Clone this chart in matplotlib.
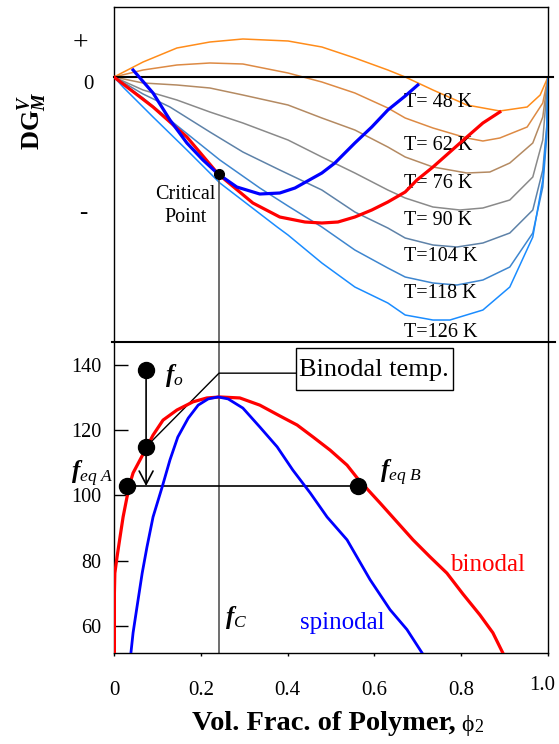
import matplotlib
matplotlib.use('Agg')
import matplotlib.pyplot as plt
from matplotlib.patches import Rectangle
from matplotlib.transforms import ScaledTranslation

plt.rcParams['font.family'] = ['Liberation Serif', 'DejaVu Serif']
plt.rcParams['mathtext.fontset'] = 'custom'
plt.rcParams['mathtext.rm'] = 'Liberation Serif'
plt.rcParams['mathtext.it'] = 'Liberation Serif:italic'
plt.rcParams['mathtext.bf'] = 'Liberation Serif:bold'
plt.rcParams['mathtext.bfit'] = 'Liberation Serif:bold:italic'

# ---- top panel: free energy of mixing curves (arbitrary units) ----
temps = ['T= 48 K', 'T= 62 K', 'T= 76 K', 'T= 90 K', 'T=104 K', 'T=118 K', 'T=126 K']
colors = ['#ff8c1a', '#dd8a44', '#b48a62', '#8a8a8a', '#5e82a8', '#3e86cf', '#1a8cff']

phi_t48 = [0, .067, .145, .221, .297, .401, .479, .555, .631, .671, .735, .813, .889, .952, .982, 1.0]
g_t48 = [0, 1.5, 2.9, 3.5, 3.8, 3.6, 3.0, 1.9, 0.7, 0.0, -1.3, -2.8, -3.4, -3.0, -1.8, 0.0]

phi_t62 = [0, .067, .145, .221, .297, .401, .479, .555, .631, .671, .735, .813, .850, .889, .952, .988, 1.0]
g_t62 = [0, .7, 1.2, 1.4, 1.3, .4, -.5, -1.6, -3.1, -4.1, -5.1, -6.1, -6.4, -6.1, -5.0, -2.6, 0]

phi_t76 = [0, .067, .145, .221, .297, .401, .479, .555, .631, .671, .735, .813, .866, .912, .965, .988, 1.0]
g_t76 = [0, -.6, -.8, -1.1, -1.8, -2.8, -4.1, -5.3, -7.0, -8.0, -9.0, -9.6, -9.5, -8.6, -6.6, -4.0, 0]

phi_t90 = [0, .067, .145, .221, .297, .401, .479, .555, .631, .671, .735, .797, .850, .912, .965, .988, 1.0]
g_t90 = [0, -1.3, -2.3, -3.5, -4.6, -6.3, -8.0, -9.6, -11.3, -12.1, -13.0, -13.3, -13.1, -12.3, -10.0, -6.3, 0]

phi_t104 = [0, .067, .129, .221, .297, .382, .479, .555, .631, .671, .735, .790, .850, .912, .965, .988, .997, 1.0]
g_t104 = [0, -1.7, -3.0, -5.5, -7.5, -9.3, -11.3, -13.5, -15.1, -16.1, -16.8, -17.0, -16.6, -15.6, -13.3, -9.3, -5.0, 0]

phi_t118 = [0, .067, .129, .244, .336, .401, .479, .555, .631, .671, .735, .790, .850, .912, .965, .988, .997, 1.0]
g_t118 = [0, -2.1, -4.3, -8.3, -11.1, -12.9, -15.0, -17.3, -19.1, -20.0, -20.6, -20.8, -20.3, -19.0, -15.6, -11.0, -6.0, 0]

phi_t126 = [0, .023, .090, .168, .244, .376, .401, .479, .555, .631, .671, .735, .774, .850, .912, .965, .988, .997, 1.0]
g_t126 = [0, -1.1, -4.0, -7.3, -10.6, -15.0, -15.8, -18.6, -21.0, -22.6, -23.8, -24.3, -24.3, -23.3, -21.0, -16.0, -10.3, -5.3, 0]

# loci of the binodal (red) and spinodal (blue) points on the G curves
phi_bin_locus = [0, .090, .168, .240, .320, .382, .440, .479, .516, .555, .594, .631, .671, .698, .735, .774, .813, .850, .889]
g_bin_locus = [0, -3.0, -6.0, -9.7, -12.6, -14.0, -14.5, -14.6, -14.5, -14.0, -13.3, -12.5, -11.5, -10.3, -9.0, -7.5, -6.0, -4.6, -3.5]
phi_spin_locus = [.044, .090, .129, .168, .205, .240, .283, .336, .382, .417, .479, .509, .555, .594, .631, .671, .700]
g_spin_locus = [.7, -1.6, -4.3, -6.6, -8.3, -9.7, -11.0, -11.7, -11.6, -11.1, -9.6, -8.6, -6.6, -5.0, -3.3, -1.9, -0.8]

phi_c, g_c, T_c = 0.242, -9.7, 130.2

# ---- bottom panel: phase diagram ----
phi_binodal = [.001, .001, .002, .007, .014, .021, .030, .037, .044, .060, .076, .090, .113, .145, .182, .214,
               .244, .290, .336, .382, .422, .459, .498, .537, .562, .613, .652, .689, .728, .767, .804, .843, .873, .896]
T_binodal = [51.7, 70.1, 76.2, 81.1, 87.3, 93.4, 99.5, 103.8, 106.9, 110.9, 114.9, 118.5, 123.1, 126.2, 128.7, 129.9,
             130.2, 129.9, 127.7, 124.4, 121.6, 117.9, 113.9, 109.3, 105.1, 97.7, 91.9, 86.4, 81.2, 76.2, 69.8, 63.4, 57.9, 51.7]
phi_spinodal = [.039, .044, .053, .065, .076, .090, .111, .129, .147, .171, .194, .217, .240, .263, .297, .336,
                .376, .412, .452, .491, .537, .590, .636, .675, .710]
T_spinodal = [51.7, 57.9, 65.8, 76.2, 84.2, 93.4, 102.6, 110.9, 117.9, 123.7, 127.7, 129.6, 130.2, 129.6, 126.8, 121.0,
              114.9, 107.8, 100.8, 93.4, 86.4, 74.2, 65.0, 58.9, 51.7]

phi_o, T_o = 0.074, 138.5
T_onset = 114.9
T_quench = 102.9
phi_eqA, phi_eqB = 0.030, 0.562

fig = plt.figure(figsize=(5.59, 7.44), dpi=100)
ax1 = fig.add_axes([0.2039, 0.5403, 0.7764, 0.4503])
ax2 = fig.add_axes([0.2039, 0.1223, 0.7764, 0.4180])

# top panel
curves = [(phi_t48, g_t48), (phi_t62, g_t62), (phi_t76, g_t76), (phi_t90, g_t90),
          (phi_t104, g_t104), (phi_t118, g_t118), (phi_t126, g_t126)]
label_y = [-2.5, -6.8, -10.6, -14.3, -17.9, -21.6, -25.5]
for (px, gy), c, lab, ly in zip(curves, colors, temps, label_y):
    ax1.plot(px, gy, color=c, lw=1.1, solid_joinstyle='round')
    ax1.text(0.668, ly, lab, fontsize=14.5, va='center', ha='left')

ax1.plot(phi_bin_locus, g_bin_locus, color='#ff0000', lw=2.3, solid_joinstyle='round', zorder=3)
ax1.plot(phi_spin_locus, g_spin_locus, color='#0000ff', lw=2.3, solid_joinstyle='round', zorder=3)
ax1.axhline(0, xmin=0, xmax=1.012, color='black', lw=1.5, clip_on=False, zorder=2)
ax1.vlines(phi_c, -26.5, g_c, color='#555555', lw=1.2)
ax1.plot(phi_c, g_c, 'o', color='black', ms=7, zorder=5)
ax1.text(0.164, -12.9, 'Critical\nPoint', fontsize=14.5, ha='center', va='center', linespacing=1.35)

ax1.set_xlim(0, 1)
ax1.set_ylim(-26.5, 7.0)
ax1.set_xticks([])
ax1.set_yticks([])
ax1.spines['bottom'].set_visible(False)
for s in ['top', 'left', 'right']:
    ax1.spines[s].set_linewidth(1.0)

ytr = ax1.get_yaxis_transform()
ax1.text(-0.078, 3.3, '+', transform=ytr, fontsize=20, ha='center', va='center')
ax1.text(-0.060, -0.8, '0', transform=ytr, fontsize=15, ha='center', va='center')
ax1.text(-0.071, -13.6, '-', transform=ytr, fontsize=18, ha='center', va='center')
fig.text(32 / 559, 1 - 121 / 744, r'$\mathbf{DG}_{\mathbfit{M}}^{\mathbfit{V}}$', rotation=90,
         fontsize=19, ha='center', va='center')

# bottom panel
ax2.plot(phi_binodal, T_binodal, color='#ff0000', lw=2.3, solid_joinstyle='round', zorder=3)
ax2.plot(phi_spinodal, T_spinodal, color='#0000ff', lw=2.0, solid_joinstyle='round', zorder=3)
ax2.axvline(phi_c, color='#555555', lw=1.2)
ax2.hlines(T_quench, phi_eqA, phi_eqB, color='black', lw=1.2)
ax2.annotate('', xy=(phi_o, T_quench), xytext=(phi_o, T_o),
             arrowprops=dict(arrowstyle='->,head_length=0.95,head_width=0.5', lw=1.2, color='black',
                             shrinkA=0, shrinkB=0, mutation_scale=10))
ax2.plot([phi_o, phi_eqA, phi_eqB, phi_o], [T_o, T_quench, T_quench, T_onset], 'o', color='black', ms=11.5, zorder=5)

# leader to the "Binodal temp." box
ax2.plot([phi_o, phi_c, 0.419], [T_onset, 137.5, 137.5], color='black', lw=1.0)
ax2.add_patch(Rectangle((0.419, 132.3), 0.362, 12.9, facecolor='white', edgecolor='black', lw=1.0, zorder=4))
ax2.text(0.598, 138.6, 'Binodal temp.', fontsize=19, ha='center', va='center', zorder=5)

ax2.text(0.118, 136.9, r'$\mathbfit{f}_{\mathit{o}}$', fontsize=18, ha='left', va='center')
ax2.text(0.256, 62.5, r'$\mathbfit{f}_{\mathit{C}}$', fontsize=18, ha='left', va='center')
ax2.text(-0.099, 106.6, r'$\mathbfit{f}_{\mathit{eq\ A}}$', fontsize=18, ha='left', va='center')
ax2.text(0.613, 106.9, r'$\mathbfit{f}_{\mathit{eq\ B}}$', fontsize=18, ha='left', va='center')
ax2.text(0.774, 78.7, 'binodal', color='#ff0000', fontsize=18, ha='left', va='center')
ax2.text(0.429, 60.9, 'spinodal', color='#0000ff', fontsize=18, ha='left', va='center')

ax2.set_xlim(0, 1)
ax2.set_ylim(51.7, 147.05)
ax2.set_yticks([60, 80, 100, 120, 140])
ax2.set_xticks([0, 0.2, 0.4, 0.6, 0.8, 1.0])
ax2.set_xticklabels(['0', '0.2', '0.4', '0.6', '0.8', '1.0'])
ax2.tick_params(axis='y', direction='in', length=10, width=1.0, pad=9, labelsize=14.5)
ax2.tick_params(axis='x', direction='out', length=2, width=1.0, pad=18, labelsize=15)
ax2.spines['top'].set_visible(False)
for s in ['bottom', 'left', 'right']:
    ax2.spines[s].set_linewidth(1.0)
ax2.axhline(147.05, xmin=-0.005, xmax=1.016, color='black', lw=1.5, clip_on=False)

# the last tick label sits a bit higher and left in the original
last = ax2.get_xticklabels()[-1]
last.set_transform(last.get_transform() + ScaledTranslation(-6 / 100, 5 / 100, fig.dpi_scale_trans))

t1 = fig.text(192 / 559, 1 - 730 / 744, 'Vol. Frac. of Polymer,', fontsize=20.5, fontweight='bold',
              ha='left', va='baseline')
t2 = ax2.annotate('\u03d5', xy=(1, 0), xycoords=t1, xytext=(4, 0), textcoords='offset points',
                  fontsize=17, ha='left', va='bottom', annotation_clip=False)
ax2.annotate('2', xy=(1, 0), xycoords=t2, xytext=(0.5, 0), textcoords='offset points',
             fontsize=13, ha='left', va='bottom', annotation_clip=False)

fig.savefig('out.png', dpi=100)
